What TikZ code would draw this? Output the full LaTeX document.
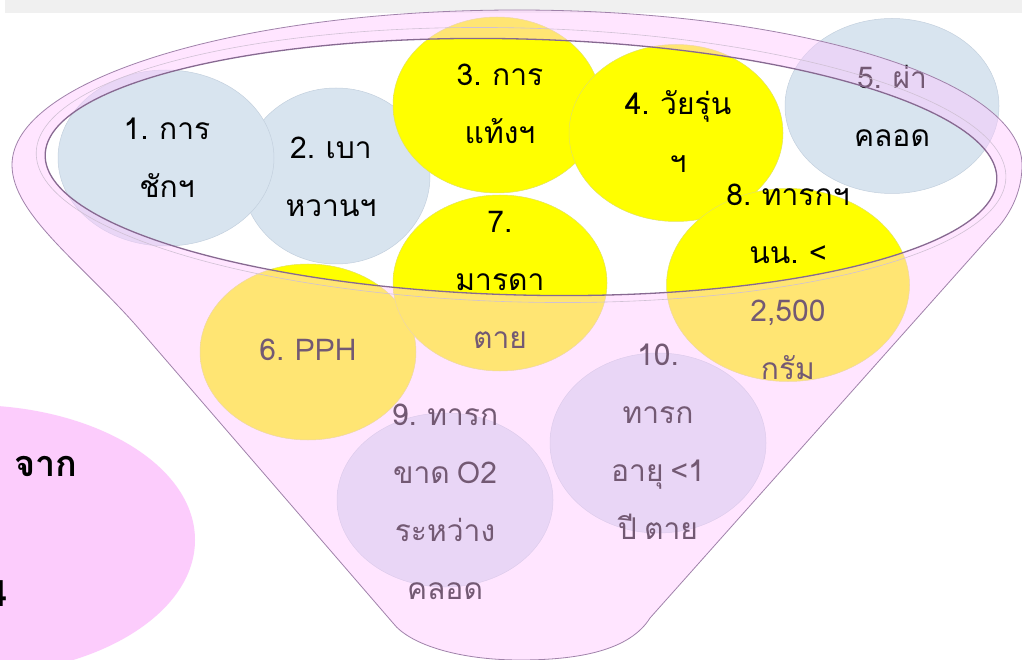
\documentclass[tikz,border=0pt]{standalone}
\usepackage{fontspec}
\newfontfamily\thaifont[Script=Thai, WordSpace=0.7]{Loma}
\usetikzlibrary{shapes.geometric}
\definecolor{ylw}{RGB}{255,255,0}
\definecolor{ylwE}{RGB}{214,214,30}
\definecolor{blu}{RGB}{216,228,239}
\definecolor{bluE}{RGB}{180,196,214}
\definecolor{funnelC}{RGB}{255,199,255}
\definecolor{edgeP}{RGB}{160,130,170}
\definecolor{innerE}{RGB}{135,105,145}
\definecolor{leftpink}{RGB}{252,204,252}
\definecolor{bandC}{RGB}{240,240,240}
\pgfdeclareradialshading{ybub}{\pgfpoint{0bp}{0bp}}{color(0bp)=(ylw); color(38bp)=(ylw); color(50bp)=(ylwE)}
\pgfdeclareradialshading{bbub}{\pgfpoint{0bp}{0bp}}{color(0bp)=(blu); color(38bp)=(blu); color(50bp)=(bluE)}
\tikzset{
  bubbase/.style={ellipse, inner sep=0pt, line width=0.5pt},
  ybubble/.style={bubbase, shading=ybub, draw=ylwE!70!white},
  bbubble/.style={bubbase, shading=bbub, draw=bluE!80!white},
  txt/.style={font=\thaifont\fontsize{30}{58}\selectfont, align=center, text=black, inner sep=0pt},
  bigtxt/.style={font=\thaifont\bfseries\fontsize{36}{40}\selectfont, text=black, inner sep=0pt}
}
\def\funnelpath{(12,-165) arc[start angle=180, end angle=0, x radius=505, y radius=155]
 .. controls (1022,-190) and (1012,-210) .. (1000,-225)
 -- (650,-618) .. controls (630,-650) and (580,-660) .. (520,-660)
 .. controls (460,-660) and (410,-645) .. (393,-623)
 -- (140,-330) .. controls (85,-266) and (12,-215) .. (12,-165) -- cycle}
\begin{document}
\begin{tikzpicture}[x=1pt,y=1pt]
\useasboundingbox (0,0) rectangle (1022,-660);
\fill[white] (0,0) rectangle (1022,-660);
% top band
\fill[bandC] (5,0) rectangle (1022,-13);
% left pink ellipse
\fill[leftpink] (-30,-540) ellipse [x radius=225, y radius=135];
\node[bigtxt, anchor=west] (jak) at (14,-466) {จาก};
\node[bigtxt, anchor=base east] (four) at (8,-606) {4};
% bubbles
\node[bbubble, minimum width=188pt, minimum height=176pt] (b2) at (336,-176) {};
\node[bbubble, minimum width=216pt, minimum height=176pt] (b1) at (166,-158) {};
\node[ybubble, minimum width=216pt, minimum height=176pt] (b6) at (308,-352) {};
\node[ybubble, minimum width=208pt, minimum height=176pt] (b3) at (497,-105) {};
\node[ybubble, minimum width=214pt, minimum height=176pt] (b7) at (500,-283) {};
\node[ybubble, minimum width=214pt, minimum height=177pt] (b4) at (676,-133) {};
\node[ybubble, minimum width=243pt, minimum height=193pt] (b8) at (788,-285) {};
\node[bbubble, minimum width=214pt, minimum height=175pt] (b5) at (892,-106) {};
\node[bbubble, minimum width=216pt, minimum height=174pt] (b9) at (445,-500) {};
\node[bbubble, minimum width=216pt, minimum height=180pt] (b10) at (658,-443) {};
% texts
\node[txt] (t1) at (167,-158) {1. การ\\ชักฯ};
\node[txt] (t2) at (331,-177) {2. เบา\\หวานฯ};
\node[txt] (t3) at (500,-104) {3. การ\\แท้งฯ};
\node[txt] (t4) at (678,-132) {4. วัยรุ่น\\ฯ};
\node[txt] (t5) at (892,-106) {5. ผ่า\\คลอด};
\node[txt] (t6) at (308,-350) {6. PPH};
\node[txt] (t7) at (500,-280) {7.\\มารดา\\ตาย};
\node[txt] (t8) at (788,-282) {8. ทารกฯ\\นน. <\\2,500\\กรัม};
\node[txt] (t9) at (445,-502) {9. ทารก\\ขาด O2\\ระหว่าง\\คลอด};
\node[txt] (t10) at (658,-442) {10.\\ทารก\\อายุ <1\\ปี ตาย};
% funnel translucent front
\fill[funnelC, fill opacity=0.45, even odd rule] \funnelpath
  {[rotate around={-1.5:(521,-167)}] (521,-167) ellipse [x radius=476, y radius=128]};
\draw[edgeP, line width=0.8pt] \funnelpath;
\draw[edgeP!50!white, line width=0.6pt, rotate around={-1.5:(521,-167)}] (521,-165) ellipse [x radius=485, y radius=137];
\draw[innerE, line width=1.3pt, rotate around={-1.5:(521,-167)}] (521,-167) ellipse [x radius=476, y radius=128];
\end{tikzpicture}
\end{document}
